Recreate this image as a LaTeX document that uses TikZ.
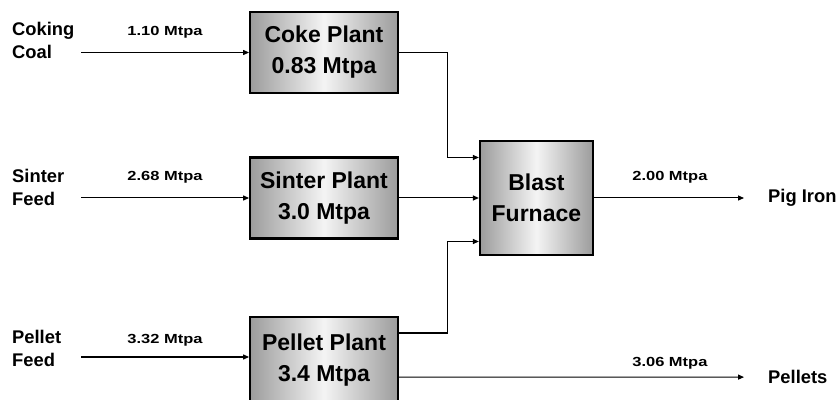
\documentclass[tikz,border=0pt]{standalone}
\usepackage{fontspec}
\setmainfont{Liberation Sans}
\usepackage{tikz}
\usetikzlibrary{arrows.meta,positioning,calc}
\definecolor{plantGray}{HTML}{9C9C9C}
\definecolor{plantLight}{HTML}{F4F4F4}

\tikzset{
    plant/.style={draw, line width=1.9pt, align=center, minimum width=4.93cm,
        minimum height=2.7cm, left color=plantGray, right color=plantGray,
        middle color=plantLight, font=\fontsize{21.8}{29.4}\selectfont\bfseries},
    feed/.style={anchor=west, align=left, inner sep=0pt,
        font=\fontsize{17.4}{21.8}\selectfont\bfseries},
    rate/.style={inner sep=0pt, font=\fontsize{12.5}{14}\selectfont\bfseries},
    flow/.style={line width=0.95pt, -{Triangle[length=2mm,width=1.7mm]}}
}

\begin{document}
\begin{tikzpicture}
    \useasboundingbox (0,0) rectangle (27.9,13.3);
    \clip (0,0) rectangle (27.9,13.3);

    % Plants
    \node[plant] (coke) at (10.8, 11.55) {Coke Plant\\0.83 Mtpa};
    \node[plant] (sinter) at (10.8, 6.7) {Sinter Plant\\3.0 Mtpa};
    \node[plant, anchor=north, minimum height=2.9cm] (pellet) at (10.8, 2.77) {Pellet Plant\\3.4 Mtpa};
    \node[plant, minimum width=3.77cm, minimum height=3.8cm] (bf) at (17.88, 6.7) {Blast\\Furnace};

    % Raw materials
    \node[feed] (coking) at (0.4, 11.95) {Coking\\Coal};
    \node[feed] (sfeed) at (0.4, 7.05) {Sinter\\Feed};
    \node[feed] (pfeed) at (0.4, 1.67) {Pellet\\Feed};
    \coordinate (cIn) at (2.7, 11.55);
    \coordinate (sIn) at (2.7, 6.7);
    \coordinate (pIn) at (2.7, 1.4);

    % Products
    \node[feed] (pig) at (25.6, 6.7) {Pig Iron};
    \node[feed] (pellets) at (25.6, 0.73) {Pellets};

    % Rates
    \node[rate] (r1) at (5.5, 12.23) {\scalebox{1.25}[1]{1.10 Mtpa}};
    \node[rate] (r2) at (5.5, 7.4) {\scalebox{1.25}[1]{2.68 Mtpa}};
    \node[rate] (r3) at (5.5, 1.97) {\scalebox{1.25}[1]{3.32 Mtpa}};
    \node[rate] (r4) at (22.33, 7.4) {\scalebox{1.25}[1]{2.00 Mtpa}};
    \node[rate] (r5) at (22.33, 1.2) {\scalebox{1.25}[1]{3.06 Mtpa}};

    % Flows
    \coordinate (bfTop) at ([yshift=1.35cm]bf.west);
    \coordinate (bfBot) at ([yshift=-1.45cm]bf.west);
    \draw[flow] (cIn) -- (coke.west);
    \draw[flow] (sIn) -- (sinter.west);
    \draw[flow] (pIn) -- (pIn -| pellet.west);
    \draw[flow] (coke.east) -| ([xshift=-1.03cm]bfTop) -- (bfTop);
    \draw[flow] (sinter.east) -- (bf.west);
    \draw[flow] ([yshift=-0.57cm]pellet.north east) -| ([xshift=-1.03cm]bfBot) -- (bfBot);
    \draw[flow] (bf.east) -- ([xshift=-0.8cm]pig.west);
    \draw[flow] ([yshift=-2.04cm]pellet.north east) -- ([xshift=-0.8cm]pellets.west);
\end{tikzpicture}
\end{document}
